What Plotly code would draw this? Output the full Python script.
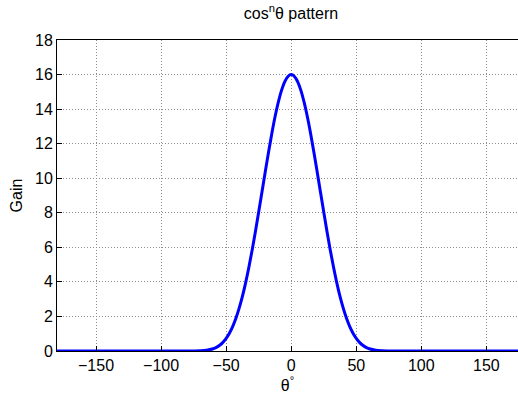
import plotly.graph_objects as go

theta = [-180, -170, -160, -150, -140, -130, -120, -110, -100, -90,
         -85, -80, -75, -70, -65, -60, -57.5, -55, -52.5, -50, -47.5, -45, -42.5, -40,
         -37.5, -35, -32.5, -30, -27.5, -25, -22.5, -20, -17.5, -15, -12.5, -10, -7.5, -5, -2.5,
         0, 2.5, 5, 7.5, 10, 12.5, 15, 17.5, 20, 22.5, 25, 27.5, 30, 32.5, 35, 37.5,
         40, 42.5, 45, 47.5, 50, 52.5, 55, 57.5, 60, 65, 70, 75, 80, 85,
         90, 100, 110, 120, 130, 140, 150, 160, 170, 180]
gain = [0, 0, 0, 0, 0, 0, 0, 0, 0, 0,
        0.0, 0.0, 0.002, 0.01, 0.04, 0.13, 0.21, 0.33, 0.50, 0.73, 1.03, 1.41, 1.89, 2.48,
        3.16, 3.96, 4.86, 5.85, 6.91, 8.04, 9.19, 10.35, 11.48, 12.55, 13.53, 14.37, 15.07, 15.58, 15.89,
        16.0, 15.89, 15.58, 15.07, 14.37, 13.53, 12.55, 11.48, 10.35, 9.19, 8.04, 6.91, 5.85, 4.86, 3.96, 3.16,
        2.48, 1.89, 1.41, 1.03, 0.73, 0.50, 0.33, 0.21, 0.13, 0.04, 0.01, 0.002, 0.0, 0.0,
        0, 0, 0, 0, 0, 0, 0, 0, 0, 0]

x_ticks = [-150, -100, -50, 0, 50, 100, 150]
y_ticks = [0, 2, 4, 6, 8, 10, 12, 14, 16, 18]

fig = go.Figure()
fig.add_trace(go.Scatter(x=theta, y=gain, mode="lines", line_shape="spline",
                         line=dict(color="#0000FF", width=3), showlegend=False))

font = dict(family="Liberation Sans, Arial, sans-serif", size=16, color="#000000")
axis_common = dict(
    showgrid=True, gridcolor="#8c8c8c", griddash="1px,2px", gridwidth=1,
    showline=True, linecolor="#000000", linewidth=1, mirror=True,
    ticks="inside", ticklen=5, tickcolor="#000000", zeroline=False,
    tickfont=font,
)
fig.update_layout(
    width=518, height=399,
    margin=dict(l=57, r=0, t=40, b=48),
    paper_bgcolor="#ffffff", plot_bgcolor="#ffffff",
    font=font,
    title=dict(text="cos<sup>n</sup>θ pattern", x=291 / 518, xanchor="center",
               y=1 - 13 / 399, yanchor="middle", font=font),
    xaxis=dict(range=[-180, 174.3], tickvals=x_ticks,
               title=dict(text="θ<sup>°</sup>", font=font, standoff=4), **axis_common),
    yaxis=dict(range=[0, 18], tickvals=y_ticks,
               title=dict(text="Gain", font=font, standoff=8), **axis_common),
)
fig.write_html("out.html")
